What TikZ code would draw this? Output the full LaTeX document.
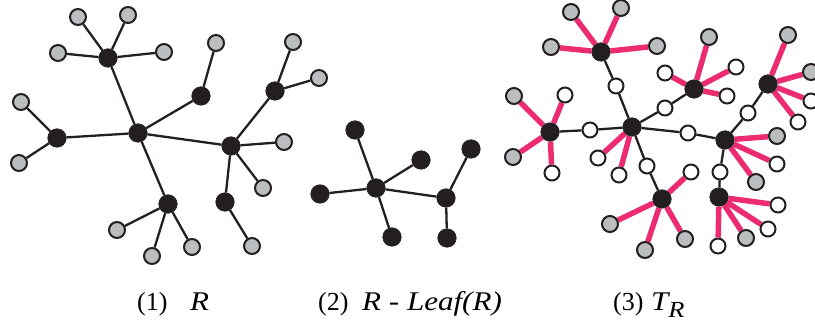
\documentclass[tikz,border=0pt]{standalone}
\usepackage{fontspec}
\setmainfont{Liberation Serif}
\usepackage{graphicx}
\usepackage{xcolor}
\usepackage{tikz}
\usetikzlibrary{backgrounds}
\definecolor{ink}{RGB}{35,31,32}
\definecolor{leafgray}{RGB}{187,189,191}
\definecolor{rosa}{RGB}{237,43,113}
\newcommand{\capit}[1]{\scalebox{1.15}[1]{\fontsize{27}{30}\selectfont\itshape #1}}

\begin{document}
\begin{tikzpicture}[
    x=1pt, y=-1pt,
    hub/.style={
        circle,
        draw=ink,
        fill=ink,
        line width=0.6pt,
        minimum size=18.5pt,
        inner sep=0pt
    },
    leaf/.style={
        circle,
        draw=ink,
        fill=leafgray,
        line width=2pt,
        minimum size=16pt,
        inner sep=0pt
    },
    hole/.style={
        circle,
        draw=ink,
        fill=white,
        line width=2pt,
        minimum size=15pt,
        inner sep=0pt
    },
    edge/.style={ink, line width=2.3pt},
    redge/.style={rosa, line width=5.5pt},
    caption/.style={font=\fontsize{26}{30}\selectfont, anchor=base west, inner sep=0pt}
]
\useasboundingbox (0,0) rectangle (815,323);

% (1) arbol R
\node[hub] (center) at (138,133) {};
\node[hub] (top) at (108,58) {};
\node[leaf] (top1) at (78,17) {};
\node[leaf] (top2) at (128,15) {};
\node[leaf] (top3) at (58,53) {};
\node[leaf] (top4) at (164,52) {};
\node[hub] (left) at (57,138) {};
\node[leaf] (left1) at (21,102) {};
\node[leaf] (left2) at (19,163) {};
\node[hub] (up) at (201,96) {};
\node[leaf] (up1) at (216,43) {};
\node[hub] (right) at (231,146) {};
\node[leaf] (right1) at (284,142) {};
\node[leaf] (right2) at (263,188) {};
\node[hub] (rup) at (275,91) {};
\node[leaf] (rup1) at (293,42) {};
\node[leaf] (rup2) at (319,78) {};
\node[hub] (rdown) at (225,202) {};
\node[leaf] (rdown1) at (252,246) {};
\node[hub] (bottom) at (168,204) {};
\node[leaf] (bottom1) at (117,230) {};
\node[leaf] (bottom2) at (152,256) {};
\node[leaf] (bottom3) at (192,247) {};

\begin{scope}[on background layer]
\draw[edge] (center) -- (top) (center) -- (left) (center) -- (up)
    (center) -- (right) (center) -- (bottom);
\draw[edge] (top) -- (top1) (top) -- (top2) (top) -- (top3) (top) -- (top4);
\draw[edge] (left) -- (left1) (left) -- (left2) (up) -- (up1);
\draw[edge] (right) -- (right1) (right) -- (right2) (right) -- (rup) (right) -- (rdown);
\draw[edge] (rup) -- (rup1) (rup) -- (rup2) (rdown) -- (rdown1);
\draw[edge] (bottom) -- (bottom1) (bottom) -- (bottom2) (bottom) -- (bottom3);
\end{scope}

% (2) R sin hojas
\node[hub] (kcenter) at (376,188) {};
\node[hub] (ktop) at (355,130) {};
\node[hub] (kup) at (421,160) {};
\node[hub] (kleft) at (320,194) {};
\node[hub] (kbottom) at (392,237) {};
\node[hub] (kright) at (446,198) {};
\node[hub] (krup) at (471,149) {};
\node[hub] (krdown) at (447,238) {};

\begin{scope}[on background layer]
\draw[edge] (kcenter) -- (ktop) (kcenter) -- (kup) (kcenter) -- (kleft)
    (kcenter) -- (kbottom) (kcenter) -- (kright);
\draw[edge] (kright) -- (krup) (kright) -- (krdown);
\end{scope}

% (3) arbol T_R
\node[hub] (tcenter) at (632,127) {};
\node[hub] (ttop) at (601,52) {};
\node[leaf] (ttop1) at (571,12) {};
\node[leaf] (ttop2) at (621,8) {};
\node[leaf] (ttop3) at (551,47) {};
\node[leaf] (ttop4) at (657,46) {};
\node[hole] (tw1) at (616,86) {};
\node[hub] (tleft) at (550,132) {};
\node[leaf] (tleft1) at (514,96) {};
\node[leaf] (tleft2) at (513,157) {};
\node[hole] (tleft3) at (565,95) {};
\node[hole] (tleft4) at (552,173) {};
\node[hole] (tw2) at (590,130) {};
\node[hole] (tcenter1) at (598,158) {};
\node[hole] (tcenter2) at (619,175) {};
\node[hub] (tup) at (694,89) {};
\node[leaf] (tup1) at (709,37) {};
\node[hole] (tup2) at (665,73) {};
\node[hole] (tup3) at (736,67) {};
\node[hole] (tup4) at (727,96) {};
\node[hole] (tw3) at (665,108) {};
\node[hub] (tbottom) at (662,199) {};
\node[leaf] (tbottom1) at (610,224) {};
\node[leaf] (tbottom2) at (645,250) {};
\node[leaf] (tbottom3) at (685,239) {};
\node[hole] (tbottom4) at (691,172) {};
\node[hole] (tw4) at (647,166) {};
\node[hub] (tright) at (725,140) {};
\node[hole] (tw5) at (688,133) {};
\node[leaf] (tright1) at (777,136) {};
\node[leaf] (tright2) at (756,182) {};
\node[hole] (tright3) at (777,164) {};
\node[hub] (trup) at (768,84) {};
\node[hole] (tw6) at (748,113) {};
\node[leaf] (trup1) at (788,35) {};
\node[leaf] (trup2) at (811,72) {};
\node[hole] (trup3) at (811,101) {};
\node[hole] (trup4) at (798,122) {};
\node[hub] (trdown) at (719,197) {};
\node[hole] (tw7) at (720,172) {};
\node[hole] (trdown1) at (778,205) {};
\node[hole] (trdown2) at (768,229) {};
\node[hole] (trdown3) at (718,246) {};
\node[leaf] (trdown4) at (746,238) {};

\begin{scope}[on background layer]
\draw[edge] (tcenter) -- (tw1) -- (ttop) (tcenter) -- (tw2) -- (tleft)
    (tcenter) -- (tw3) -- (tup) (tcenter) -- (tw4) -- (tbottom)
    (tcenter) -- (tw5) -- (tright);
\draw[edge] (tright) -- (tw6) -- (trup) (tright) -- (tw7) -- (trdown);
\draw[redge] (ttop) -- (ttop1) (ttop) -- (ttop2) (ttop) -- (ttop3) (ttop) -- (ttop4);
\draw[redge] (tleft) -- (tleft1) (tleft) -- (tleft2) (tleft) -- (tleft3) (tleft) -- (tleft4);
\draw[redge] (tcenter) -- (tcenter1) (tcenter) -- (tcenter2);
\draw[redge] (tup) -- (tup1) (tup) -- (tup2) (tup) -- (tup3) (tup) -- (tup4);
\draw[redge] (tbottom) -- (tbottom1) (tbottom) -- (tbottom2) (tbottom) -- (tbottom3)
    (tbottom) -- (tbottom4);
\draw[redge] (tright) -- (tright1) (tright) -- (tright2) (tright) -- (tright3);
\draw[redge] (trup) -- (trup1) (trup) -- (trup2) (trup) -- (trup3) (trup) -- (trup4);
\draw[redge] (trdown) -- (trdown1) (trdown) -- (trdown2) (trdown) -- (trdown3)
    (trdown) -- (trdown4);
\end{scope}

% Leyendas
\node[caption] (num1) at (137,311) {(1)};
\node[caption] (name1) at (190,311) {\capit{R}};
\node[caption] (num2) at (318,311) {(2)};
\node[caption] (name2) at (362,311) {\capit{R - Leaf(R)}};
\node[caption] (num3) at (613,311) {(3)};
\node[caption] (name3) at (651,311) {\capit{T\raisebox{-7pt}{\fontsize{23}{23}\selectfont R}}};

\end{tikzpicture}
\end{document}
